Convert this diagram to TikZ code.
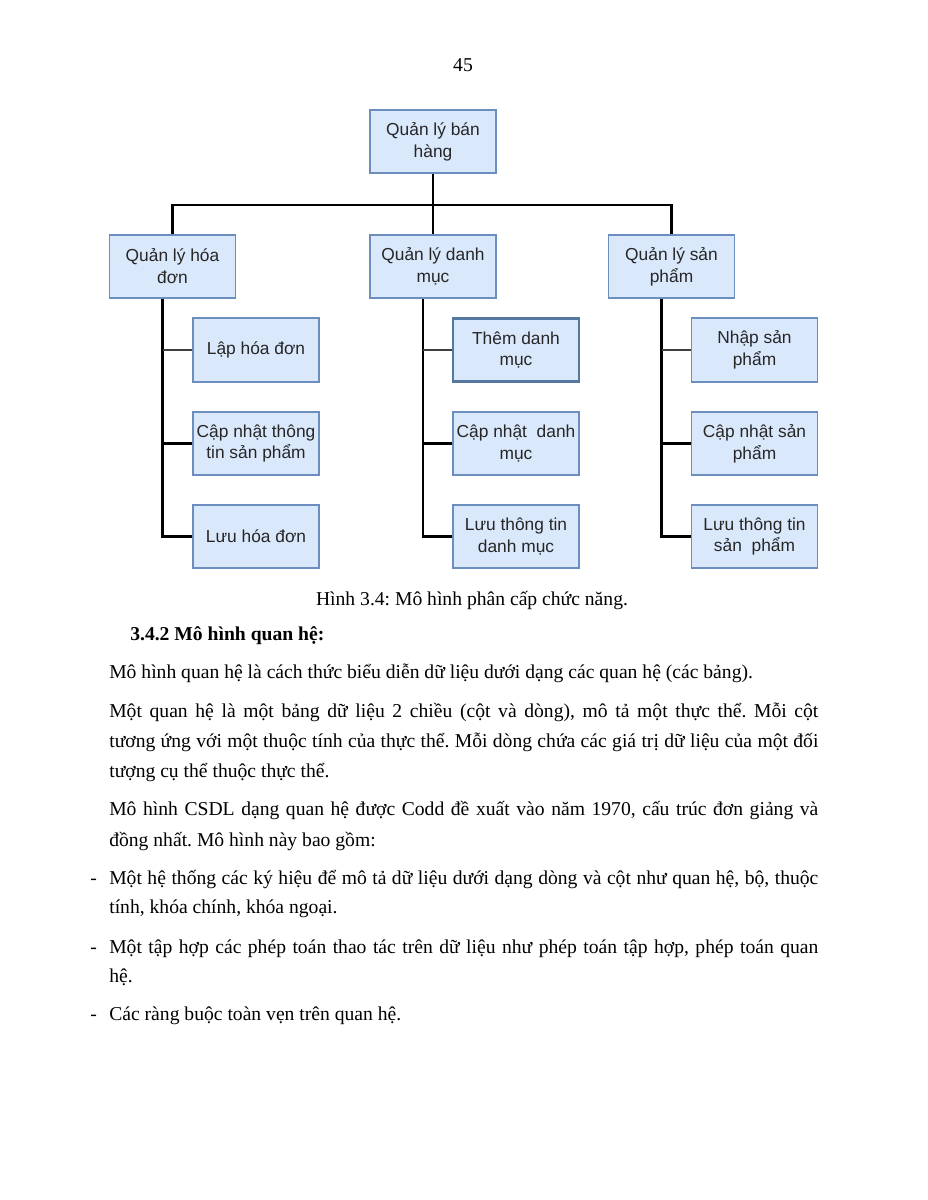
\documentclass[tikz,border=0pt]{standalone}
\usepackage{fontspec}
\setmainfont{Liberation Serif}
\newfontfamily\boxfont{Liberation Sans}
\usetikzlibrary{positioning}
\definecolor{boxfill}{HTML}{DAE8FC}
\definecolor{boxline}{HTML}{6C8EBF}
\definecolor{boxdark}{HTML}{56779F}
\frenchspacing
\tikzset{
  chucnang/.style={draw=boxline, fill=boxfill, line width=1.3pt, minimum width=83.5pt,
    minimum height=41.8pt, align=center, inner sep=0pt, text=black!85,
    font=\boxfont\fontsize{11.5}{14.5}\selectfont},
  noi/.style={line width=1.6pt},
  noimanh/.style={line width=1.1pt, black!75},
  dong/.style={anchor=base west, inner sep=0pt, font=\fontsize{13}{15}\selectfont},
}
\begin{document}
\begin{tikzpicture}[x=0.6627pt,y=-0.6627pt]
\useasboundingbox (0,0) rectangle (927,1200);
\fill[white] (0,0) rectangle (927,1200);
% so trang
\node[dong, anchor=base] (sotrang) at (463,72) {45};
% cay chuc nang
\node[chucnang] (goc) at (433,141.5) {Quản lý bán\\hàng};
\node[chucnang] (hoadon) at (172.5,266.5) {Quản lý hóa\\đơn};
\node[chucnang] (danhmuc) at (433,266.5) {Quản lý danh\\mục};
\node[chucnang] (sanpham) at (671.5,266.5) {Quản lý sản\\phẩm};
\node[chucnang] (laphd) at (256,350) {Lập hóa đơn};
\node[chucnang] (caphd) at (256,443.5) {Cập nhật thông\\tin sản phẩm};
\node[chucnang] (luuhd) at (256,536.5) {Lưu hóa đơn};
\node[chucnang, draw=boxdark, line width=1.9pt] (themdm) at (516,350) {Thêm danh\\mục};
\node[chucnang] (capdm) at (516,443.5) {Cập nhật\ \ danh\\mục};
\node[chucnang] (luudm) at (516,536.5) {Lưu thông tin\\danh mục};
\node[chucnang] (nhapsp) at (754.5,350) {Nhập sản\\phẩm};
\node[chucnang] (capsp) at (754.5,443.5) {Cập nhật sản\\phẩm};
\node[chucnang] (luusp) at (754.5,536.5) {Lưu thông tin\\sản\ \ phẩm};
\coordinate (re) at (433,205);
\draw[noi] (goc) -- (re);
\draw[noi] (hoadon.north) |- (re) -| (sanpham.north);
\draw[noi] (re) -- (danhmuc.north);
\coordinate (truchd) at ([xshift=-6.6pt]hoadon.south);
\coordinate (trucdm) at ([xshift=-6.6pt]danhmuc.south);
\coordinate (trucsp) at ([xshift=-6.6pt]sanpham.south);
\draw[noi] (truchd) |- (luuhd.west);
\draw[noi] (caphd.west) -- (caphd.west -| truchd);
\draw[noimanh] (laphd.west) -- (laphd.west -| truchd);
\draw[noi] (trucdm) |- (luudm.west);
\draw[noi] (capdm.west) -- (capdm.west -| trucdm);
\draw[noimanh] (themdm.west) -- (themdm.west -| trucdm);
\draw[noi] (trucsp) |- (luusp.west);
\draw[noi] (capsp.west) -- (capsp.west -| trucsp);
\draw[noimanh] (nhapsp.west) -- (nhapsp.west -| trucsp);
% chu thich va noi dung
\node[dong, anchor=base] (chuthich) at (472,605) {Hình 3.4: Mô hình phân cấp chức năng.};
\node[dong, font=\bfseries\fontsize{13}{15}\selectfont] (muc) at (130,640) {3.4.2 Mô hình quan hệ:};
\node[dong] (p1) at (109,678) {Mô hình quan hệ là cách thức biểu diễn dữ liệu dưới dạng các quan hệ (các bảng).};
\node[dong] (p2a) at (109,717) {\makebox[469.9pt][s]{Một quan hệ là một bảng dữ liệu 2 chiều (cột và dòng), mô tả một thực thể. Mỗi cột}};
\node[dong] (p2b) at (109,747) {\makebox[469.9pt][s]{tương ứng với một thuộc tính của thực thể. Mỗi dòng chứa các giá trị dữ liệu của một đối}};
\node[dong] (p2c) at (109,777) {tượng cụ thể thuộc thực thể.};
\node[dong] (p3a) at (109,815) {\makebox[469.9pt][s]{Mô hình CSDL dạng quan hệ được Codd đề xuất vào năm 1970, cấu trúc đơn giảng và}};
\node[dong] (p3b) at (109,846) {đồng nhất. Mô hình này bao gồm:};
\node[dong] (g1) at (90,884) {-};
\node[dong] (b1a) at (109,884) {\makebox[469.9pt][s]{Một hệ thống các ký hiệu để mô tả dữ liệu dưới dạng dòng và cột như quan hệ, bộ, thuộc}};
\node[dong] (b1b) at (109,913) {tính, khóa chính, khóa ngoại.};
\node[dong] (g2) at (90,953) {-};
\node[dong] (b2a) at (109,953) {\makebox[469.9pt][s]{Một tập hợp các phép toán thao tác trên dữ liệu như phép toán tập hợp, phép toán quan}};
\node[dong] (b2b) at (109,982) {hệ.};
\node[dong] (g3) at (90,1020) {-};
\node[dong] (b3) at (109,1020) {Các ràng buộc toàn vẹn trên quan hệ.};
\end{tikzpicture}
\end{document}
